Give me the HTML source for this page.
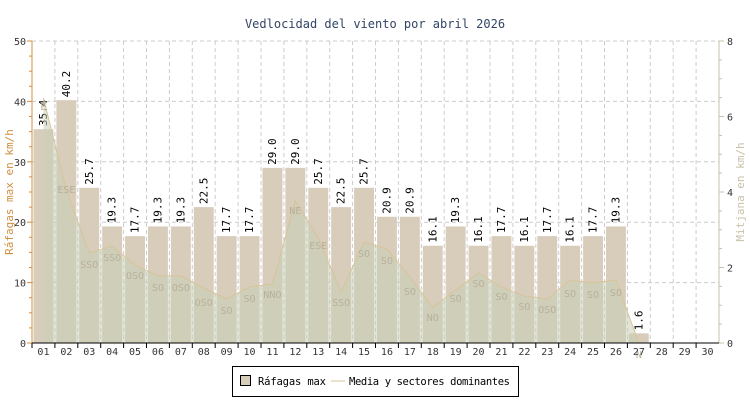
<!DOCTYPE html>
<html><head><meta charset="utf-8"><style>
html,body{margin:0;padding:0;background:#fff;width:750px;height:400px;overflow:hidden}
svg text{font-family:"DejaVu Sans Mono","Liberation Mono",monospace}
</style></head><body>
<svg id="c" width="750" height="400" xmlns="http://www.w3.org/2000/svg"></svg>
<script>
const s=document.getElementById('c');let h='';
const L=32,R=719,T=41,B=343,W=(R-L)/30;
const y=v=>B-(B-T)*v/50;
h+=`<text x="375" y="28" text-anchor="middle" font-size="12" fill="#334466">Vedlocidad del viento por abril 2026</text>`;
for(let v=10;v<=50;v+=10)h+=`<line x1="${L}" x2="${R}" y1="${y(v)}" y2="${y(v)}" stroke="#ccc" stroke-dasharray="4,3"/>`;
for(let i=1;i<30;i++){const x=L+i*W;h+=`<line x1="${x}" x2="${x}" y1="${T}" y2="${B}" stroke="#ccc" stroke-dasharray="4,3"/>`;}
const vals=[35.4,40.2,25.7,19.3,17.7,19.3,19.3,22.5,17.7,17.7,29.0,29.0,25.7,22.5,25.7,20.9,20.9,16.1,19.3,16.1,17.7,16.1,17.7,16.1,17.7,19.3,1.6];
vals.forEach((v,i)=>{const x=L+i*W+1.5,yy=y(v);h+=`<rect x="${x}" y="${yy}" width="${W-3}" height="${B-yy}" fill="#d8ccbb"/>`;
h+=`<text transform="translate(${x+W/2+2},${yy-3}) rotate(-90)" font-size="11" fill="#000">${v.toFixed(1)}</text>`;});
const ly=[98,190,253,246,265,276,276,288,299,287,284,201,238,292,242,249,277,307,290,273,287,296,299,280,283,280,343];
let p=`M${L+0.5*W},${B}`;ly.forEach((v,i)=>p+=` L${L+(i+0.5)*W},${v}`);p+=` L${L+26.5*W},${B} Z`;
h+=`<path d="${p}" fill="#c8d0b8" fill-opacity="0.55"/>`;
h+=`<polyline points="${ly.map((v,i)=>(L+(i+0.5)*W)+','+v).join(' ')}" fill="none" stroke="#d8c49a" stroke-width="1"/>`;
const dirs=['E','ESE','SSO','SSO','OSO','SO','OSO','OSO','SO','SO','NNO','NE','ESE','SSO','SO','SO','SO','NO','SO','SO','SO','SO','OSO','SO','SO','SO','N'];
const dy=[110,193,268,261,279,291,291,306,314,302,298,214,249,306,257,264,295,321,302,287,300,310,313,297,298,296,358];
dirs.forEach((d,i)=>h+=`<text x="${L+(i+0.5)*W}" y="${dy[i]}" text-anchor="middle" font-size="10" fill="#b8b09a">${d}</text>`);
h+=`<line x1="${L}" x2="${L}" y1="${T}" y2="${B}" stroke="#d09040"/>`;
h+=`<line x1="${R}" x2="${R}" y1="${T}" y2="${B}" stroke="#c8c0a8"/>`;
h+=`<line x1="${L}" x2="${R}" y1="${B}" y2="${B}" stroke="#000"/>`;
for(let v=0;v<=50;v+=2.5){const yy=y(v);h+=`<line x1="${v%10?L-3:L-5}" x2="${L}" y1="${yy}" y2="${yy}" stroke="#d09040"/>`;
if(v%10==0)h+=`<text x="${L-6}" y="${yy+4}" text-anchor="end" font-size="10" fill="#333">${v}</text>`;}
for(let r=0;r<=8;r+=0.5){const yy=B-(B-T)*r/8;h+=`<line x1="${R}" x2="${R+(r%2?3:5)}" y1="${yy}" y2="${yy}" stroke="#c8c0a8"/>`;
if(r%2==0)h+=`<text x="${R+8}" y="${yy+4}" font-size="10" fill="#333">${r}</text>`;}
for(let i=0;i<30;i++){const x=L+i*W;h+=`<line x1="${x}" x2="${x}" y1="${B}" y2="${B+5}" stroke="#000"/>`;
h+=`<text x="${x+W/2}" y="${B+12}" text-anchor="middle" font-size="10" fill="#333">${String(i+1).padStart(2,'0')}</text>`;}
h+=`<text transform="translate(13,192) rotate(-90)" text-anchor="middle" font-size="11" fill="#d09040">Ráfagas max en km/h</text>`;
h+=`<text transform="translate(744,192) rotate(-90)" text-anchor="middle" font-size="11" fill="#c8c0a8">Mitjana en km/h</text>`;
h+=`<rect x="232.5" y="366.5" width="286" height="30" fill="#fff" stroke="#000"/>`;
h+=`<rect x="240.5" y="375.5" width="10" height="10" fill="#d8ccbb" stroke="#000"/>`;
h+=`<text x="258" y="385" font-size="10.5" fill="#000" textLength="68">Ráfagas max</text>`;
h+=`<line x1="331" x2="345" y1="381" y2="381" stroke="#d8c49a"/>`;
h+=`<text x="349" y="385" font-size="10.5" fill="#000" textLength="161">Media y sectores dominantes</text>`;
s.innerHTML=h;
</script>
</body></html>
